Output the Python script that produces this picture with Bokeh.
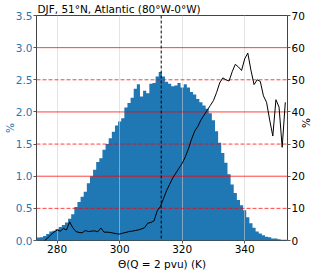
import math
from bokeh.plotting import figure
from bokeh.models import Range1d, LinearAxis, Span, FixedTicker, PrintfTickFormatter
from bokeh.embed import file_html
from bokeh.resources import INLINE

# ---------------- data ----------------
title_text = "DJF, 51°N, Atlantic (80°W-0°W)"
x_label = "Θ(Q = 2 pvu) (K)"
x_ticks = [280, 300, 320, 340]
left_ticks = [0.0, 0.5, 1.0, 1.5, 2.0, 2.5, 3.0, 3.5]
right_ticks = [0, 10, 20, 30, 40, 50, 60, 70]
ref_solid = [20, 40, 60]
ref_dashed = [10, 30, 50]
median_theta = 313.3

hist_theta = list(range(274, 354))
hist_pct = [
    0.045, 0.05, 0.07, 0.10, 0.14, 0.15, 0.18, 0.21, 0.24, 0.28,
    0.34, 0.41, 0.52, 0.60, 0.68, 0.76, 0.89, 1.00, 1.10, 1.22,
    1.28, 1.41, 1.50, 1.59, 1.69, 1.79, 1.85, 1.90, 2.07, 2.14,
    2.22, 2.36, 2.43, 2.24, 2.33, 2.29, 2.44, 2.45, 2.55, 2.62,
    2.55, 2.47, 2.44, 2.40, 2.41, 2.45, 2.38, 2.43, 2.38, 2.31,
    2.27, 2.20, 2.15, 2.10, 2.05, 1.98, 1.87, 1.70, 1.52, 1.36,
    1.21, 1.03, 0.87, 0.74, 0.63, 0.55, 0.47, 0.36, 0.27, 0.20,
    0.14, 0.11, 0.08, 0.06, 0.05, 0.03, 0.03, 0.02, 0.01, 0.01,
]

line_theta = list(range(276, 354))
line_pct = [
    0, 0.8, 1.8, 2.6, 3.3, 2.9, 3.7, 3.3, 5.8, 4.0,
    2.8, 2.5, 2.4, 3.1, 2.8, 2.9, 3.0, 2.7, 3.9, 2.6,
    2.6, 2.5, 2.3, 2.1, 2.0, 2.3, 2.5, 2.8, 2.9, 3.1,
    3.3, 3.6, 4.0, 5.4, 5.6, 6.1, 9.2, 10.5, 13, 15.5,
    17.5, 19.5, 21, 22.5, 24, 26, 28.5, 31.5, 34, 35.5,
    37.5, 39, 40.5, 42, 43.5, 46, 49, 50.6, 50, 49.6,
    52.5, 54.8, 54, 52.9, 56.5, 58.3, 53, 48.5, 50, 49.5,
    45, 43, 37.5, 32.5, 43.8, 41.5, 29, 43,
]

x_start, x_end = 273.4, 353.7

# bin edges derived from the 1 K bin centres
bin_edges = [t - 0.5 for t in hist_theta] + [hist_theta[-1] + 0.5]
bin_tops = hist_pct + [hist_pct[-1]]

# ---------------- figure ----------------
FONT = "DejaVu Sans"
FS = "10.5px"
BLUE = "#1f77b4"

p = figure(width=320, height=272, output_backend="svg", toolbar_location=None,
           x_range=Range1d(x_start, x_end), y_range=Range1d(0, 3.5),
           title=title_text,
           min_border_left=36, min_border_right=32, min_border_top=0, min_border_bottom=31)
p.extra_y_ranges = {"right": Range1d(0, 70)}
p.background_fill_color = "white"
p.border_fill_color = "white"
p.outline_line_color = "#444444"
p.outline_line_width = 1

p.title.align = "left"
p.title.offset = 1
p.title.standoff = 1
p.title.text_font = FONT
p.title.text_font_size = FS
p.title.text_font_style = "normal"
p.title.text_color = "black"

p.varea_step(x=bin_edges, y1=[0] * len(bin_edges), y2=bin_tops, step_mode="after",
             fill_color=BLUE)

# axes
p.xaxis.ticker = FixedTicker(ticks=x_ticks)
p.yaxis.ticker = FixedTicker(ticks=left_ticks)
p.yaxis.formatter = PrintfTickFormatter(format="%.1f")
right_axis = LinearAxis(y_range_name="right", ticker=FixedTicker(ticks=right_ticks))
p.add_layout(right_axis, "right")

p.xaxis.axis_label = x_label
p.yaxis.axis_label = "%"
right_axis.axis_label = "%"

for ax in [p.xaxis[0], p.yaxis[0], right_axis]:
    ax.axis_line_color = None
    ax.major_tick_in = 0
    ax.major_tick_out = 3
    ax.major_tick_line_color = "#555555"
    ax.minor_tick_in = 0
    ax.minor_tick_out = 0
    ax.major_label_text_font = FONT
    ax.major_label_text_font_size = FS
    ax.major_label_standoff = 1
    ax.axis_label_text_font = FONT
    ax.axis_label_text_font_size = FS
    ax.axis_label_text_font_style = "normal"
    ax.axis_label_standoff = 2
p.yaxis[0].axis_label_standoff = -3
right_axis.axis_label_standoff = -2
if "axis_label_orientation" in right_axis.properties():
    right_axis.axis_label_orientation = math.pi / 2

p.yaxis[0].major_label_text_color = BLUE
p.yaxis[0].axis_label_text_color = BLUE
p.xaxis[0].major_label_text_color = "black"
p.xaxis[0].axis_label_text_color = "black"
right_axis.major_label_text_color = "black"
right_axis.axis_label_text_color = "black"

p.ygrid.visible = False
p.xgrid.ticker = FixedTicker(ticks=x_ticks)
p.xgrid.grid_line_color = "#d0d0d0"
p.xgrid.grid_line_alpha = 0.55
p.xgrid.level = "annotation"

for v in ref_solid:
    p.add_layout(Span(location=v, dimension="width", y_range_name="right",
                      line_color="red", line_alpha=0.75, line_width=1))
for v in ref_dashed:
    p.add_layout(Span(location=v, dimension="width", y_range_name="right",
                      line_color="red", line_alpha=0.75, line_width=1, line_dash="4 2"))

p.add_layout(Span(location=median_theta, dimension="height", line_color="black",
                  line_width=1, line_dash="3 2"))

r = p.line(x=line_theta, y=line_pct, y_range_name="right", line_color="black", line_width=1)
r.level = "overlay"

open("out.html", "w").write(file_html(p, INLINE))
